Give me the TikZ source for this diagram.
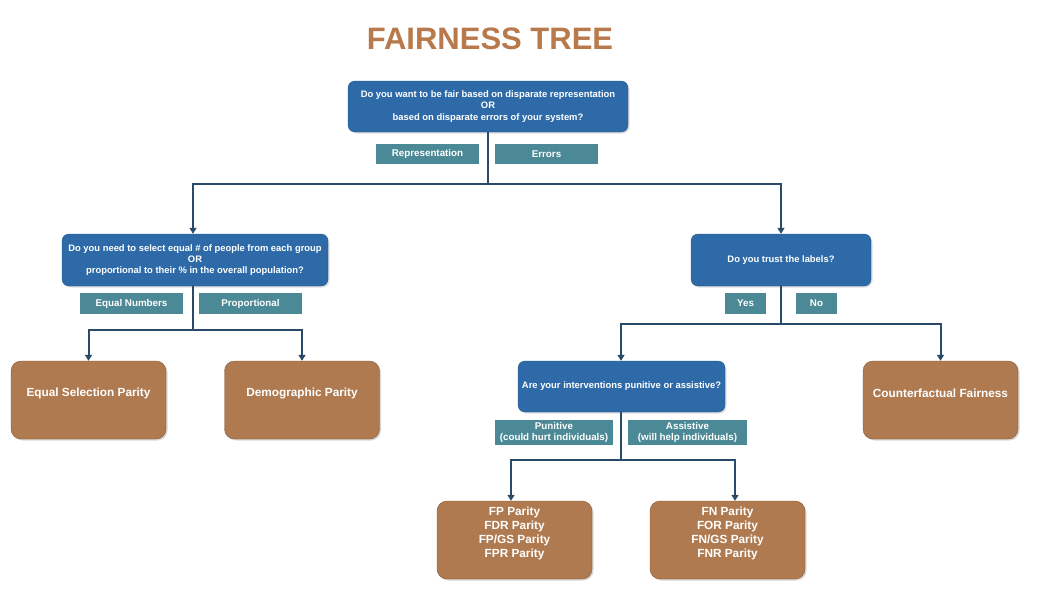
\documentclass[tikz,border=0pt]{standalone}
\usepackage{fontspec}
\setmainfont{Liberation Sans}
\usetikzlibrary{arrows.meta,shadows}
\definecolor{qblue}{HTML}{2E6AA8}
\definecolor{qblueedge}{HTML}{245A90}
\definecolor{tagteal}{HTML}{4A8995}
\definecolor{leafbrown}{HTML}{B07A50}
\definecolor{leafedge}{HTML}{8A5A36}
\definecolor{wire}{HTML}{2A4A68}
\definecolor{titlebrown}{HTML}{B87A4C}
\tikzset{
  question/.style={draw=qblueedge, fill=qblue, rounded corners=7pt, text=white,
    font=\fontsize{9.4}{11.3}\selectfont\bfseries, align=center, inner sep=0pt,
    drop shadow={opacity=0.25, shadow xshift=1.5pt, shadow yshift=-1.5pt}},
  tag/.style={fill=tagteal, text=white, font=\fontsize{9.8}{10.5}\selectfont\bfseries,
    align=center, inner sep=0pt},
  leaf/.style={draw=leafedge, fill=leafbrown, rounded corners=10pt,
    inner sep=0pt, minimum width=155pt, minimum height=78pt,
    drop shadow={opacity=0.3, shadow xshift=1.5pt, shadow yshift=-1.5pt}},
  leaftext/.style={text=white, font=\fontsize{11.8}{14}\selectfont\bfseries,
    align=center, inner sep=0pt, yshift=7pt},
  wireline/.style={draw=wire, line width=2pt},
  arrowline/.style={wireline, -{Triangle[length=6pt,width=7pt]}},
}
\begin{document}
\begin{tikzpicture}[x=1pt,y=-1pt]
\useasboundingbox (0,0) rectangle (1038,610);
\fill[white] (0,0) rectangle (1038,610);

% title
\node[text=titlebrown, font=\fontsize{31}{31}\selectfont\bfseries] (title) at (490,39) {FAIRNESS TREE};

% questions
\node[question, minimum width=280pt, minimum height=51pt] (root) at (488,106.5)
  {Do you want to be fair based on disparate representation\\OR\\based on disparate errors of your system?};
\node[question, minimum width=266pt, minimum height=52pt] (qsel) at (195,260)
  {Do you need to select equal \# of people from each group\\OR\\proportional to their \% in the overall population?};
\node[question, minimum width=180pt, minimum height=52pt] (qlab) at (781,260)
  {Do you trust the labels?};
\node[question, minimum width=207pt, minimum height=51pt] (qint) at (621.5,386.5)
  {Are your interventions punitive or assistive?};

% answer tags
\node[tag, minimum width=103pt, minimum height=20pt] (trep) at (427.5,154) {Representation};
\node[tag, minimum width=103pt, minimum height=20pt] (terr) at (546.5,154) {Errors};
\node[tag, minimum width=103pt, minimum height=21pt] (teq) at (131.5,303.5) {Equal Numbers};
\node[tag, minimum width=103pt, minimum height=21pt] (tprop) at (250.5,303.5) {Proportional};
\node[tag, minimum width=41pt, minimum height=21pt] (tyes) at (745.5,303.5) {Yes};
\node[tag, minimum width=41pt, minimum height=21pt] (tno) at (816.5,303.5) {No};
\node[tag, minimum width=118pt, minimum height=25pt] (tpun) at (554,432.5) {Punitive\\(could hurt individuals)};
\node[tag, minimum width=119pt, minimum height=25pt] (tass) at (687.5,432.5) {Assistive\\(will help individuals)};

% outcomes (text sits a little above the box centre)
\node[leaf, label={[leaftext]center:Equal Selection Parity}] (esp) at (88.5,400) {};
\node[leaf, label={[leaftext]center:Demographic Parity}] (dp) at (302,400) {};
\node[leaf, label={[leaftext]center:Counterfactual Fairness}] (cf) at (940.5,400) {};
\node[leaf, label={[leaftext]center:{FP Parity\\FDR Parity\\FP/GS Parity\\FPR Parity}}] (fp) at (514.5,540) {};
\node[leaf, label={[leaftext]center:{FN Parity\\FOR Parity\\FN/GS Parity\\FNR Parity}}] (fn) at (727.5,540) {};

% junction points
\coordinate (j1) at (488,184);
\coordinate (j2) at (193,330);
\coordinate (j3) at (781,324);
\coordinate (j4) at (621,460);

% connectors
\draw[wireline] (root.south) -- (j1);
\draw[arrowline] (j1) -| (qsel.north -| j2);
\draw[arrowline] (j1) -| (qlab.north);

\draw[wireline] (qsel.south -| j2) -- (j2);
\draw[arrowline] (j2) -| (esp.north);
\draw[arrowline] (j2) -| (dp.north);

\draw[wireline] (qlab.south) -- (j3);
\draw[arrowline] (j3) -| (qint.north -| j4);
\draw[arrowline] (j3) -| (cf.north);

\draw[wireline] (qint.south -| j4) -- (j4);
\draw[arrowline] (j4) -| ([xshift=-3.5pt]fp.north);
\draw[arrowline] (j4) -| ([xshift=7.5pt]fn.north);
\end{tikzpicture}
\end{document}
